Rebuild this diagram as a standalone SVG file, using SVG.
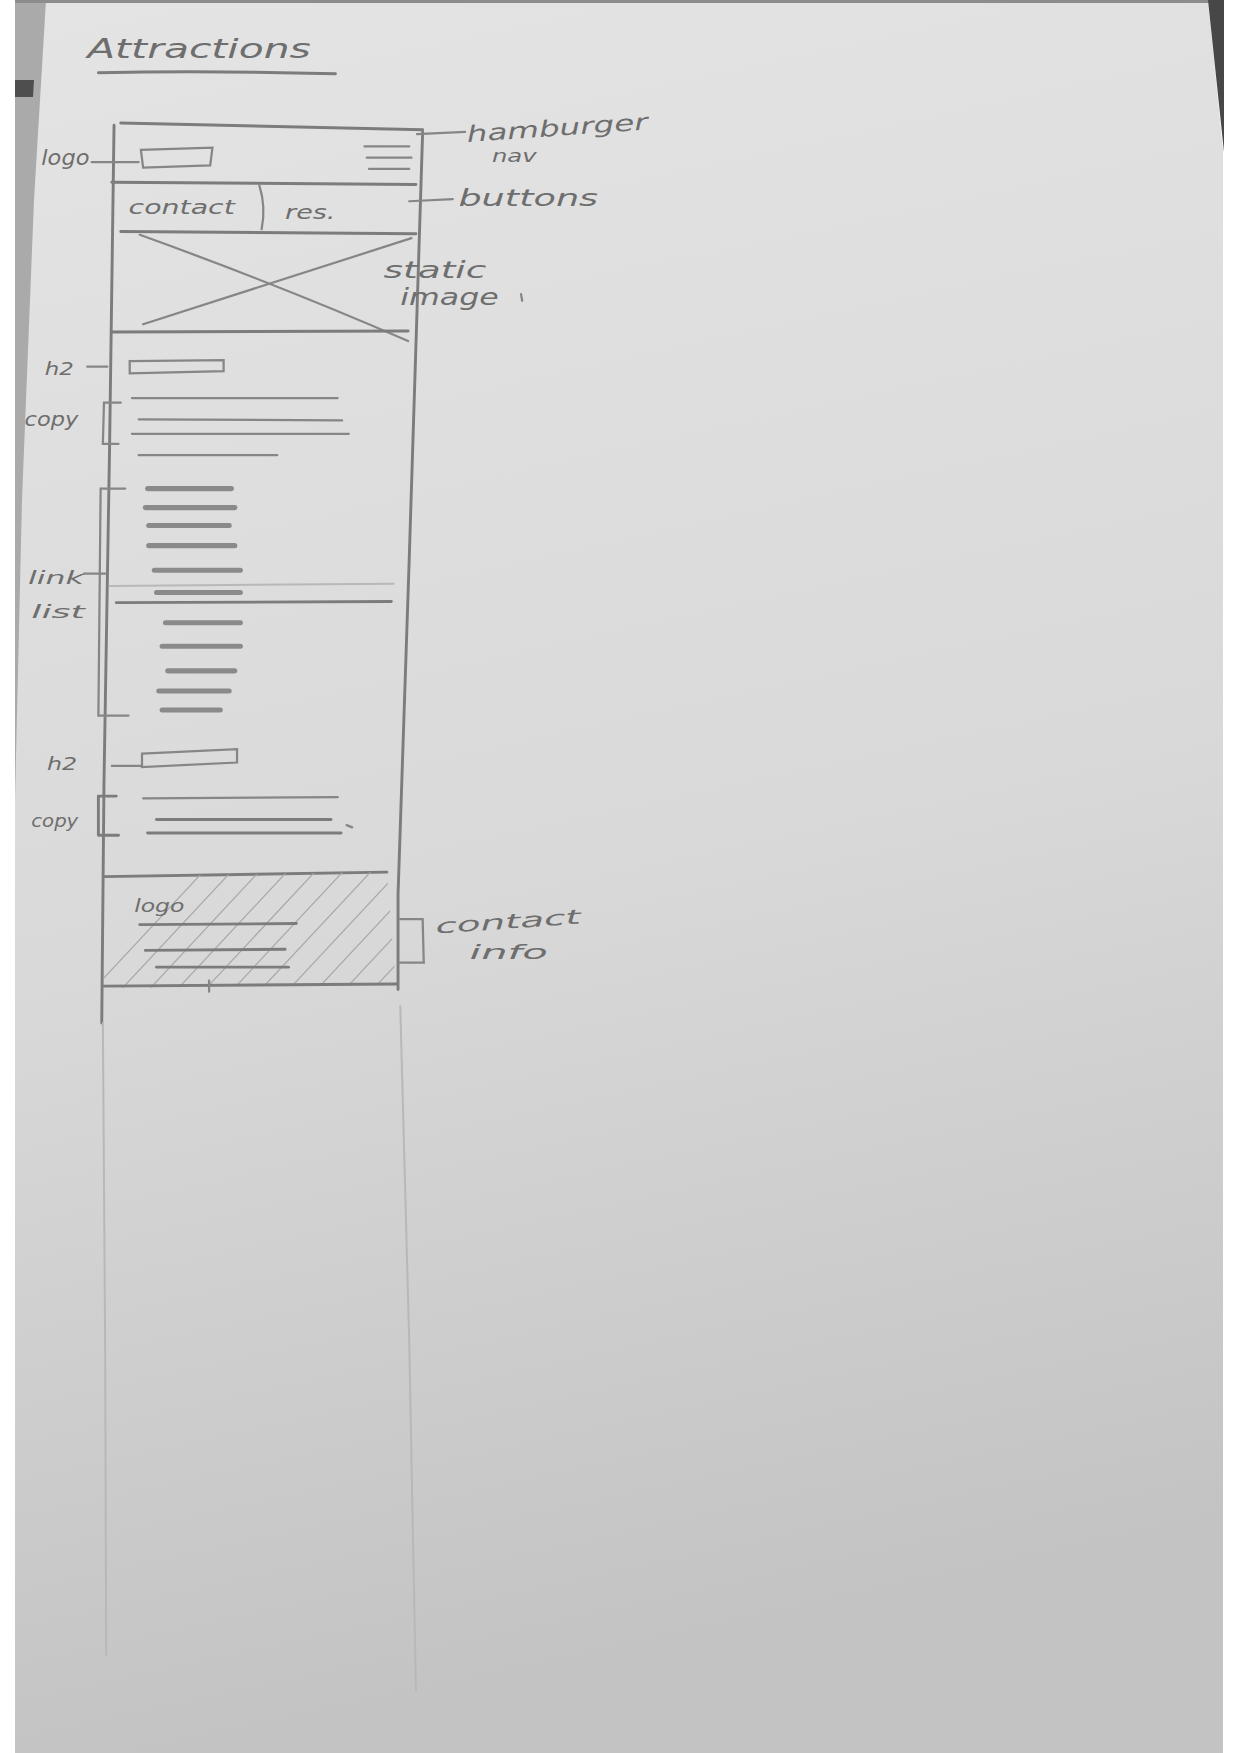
<svg xmlns="http://www.w3.org/2000/svg" width="1240" height="1753" viewBox="0 0 1240 1753">
<defs>
<linearGradient id="paper" x1="0" y1="0" x2="0.15" y2="1">
<stop offset="0" stop-color="#e4e4e4"/>
<stop offset="0.55" stop-color="#d9d9d9"/>
<stop offset="1" stop-color="#c3c3c3"/>
</linearGradient>
<clipPath id="footclip"><polygon points="93,784 346,780 354,880 93,884"/></clipPath>
<style>
.s{stroke:#7c7c7c;stroke-width:2.6;fill:none;stroke-linecap:round;stroke-linejoin:round}
.m{stroke:#868686;stroke-width:2;fill:none;stroke-linecap:round}
.f{stroke:#b8b8b8;stroke-width:1.8;fill:none;stroke-linecap:round}
.d{stroke:#8a8a8a;stroke-width:4.5;fill:none;stroke-linecap:round}
.h{stroke:#a8a8a8;stroke-width:1.1;fill:none}
.t{font-family:"DejaVu Sans","Liberation Sans",sans-serif;fill:#6e6e6e;font-style:italic}
</style>
</defs>
<rect x="0" y="0" width="1240" height="1753" fill="#ffffff"/>
<polygon points="15,0 1208,0 1223,150 1223,1753 15,1753" fill="url(#paper)"/>
<polygon points="15,0 46,0 34,200 22,500 15,800" fill="#aaaaaa"/>
<polygon points="15,80 34,80 33,97 15,97" fill="#4e4e4e"/>
<rect x="15" y="0" width="1195" height="3" fill="#8c8c8c"/>
<polygon points="1208,0 1224,0 1224,152" fill="#474747"/>

<g transform="scale(1.1181)">
<g id="title">
<text class="t" x="78" y="52" font-size="24" textLength="200" lengthAdjust="spacingAndGlyphs" fill="#555">Attractions</text>
<path class="s" d="M88,65 Q190,63 300,66" stroke="#6a6a6a"/>
</g>

<g id="frame">
<path class="s" d="M108,110 L378,116"/>
<path class="s" d="M102,112 L98,400 L93,700 L91,915"/>
<path class="f" d="M92,915 L94,1200 L95,1480"/>
<path class="s" d="M378,118 L366,500 L356,800 L356,885"/>
<path class="f" d="M358,900 L366,1200 L372,1512"/>
</g>

<g id="header">
<path class="m" d="M126,134 L190,132 L188,148 L128,150 Z"/>
<path class="m" d="M326,131 L366,131 M328,141 L368,141 M330,151 L366,151"/>
<path class="s" d="M100,163 L372,165"/>
</g>

<g id="buttons">
<text class="t" x="115" y="191" font-size="17" textLength="95" lengthAdjust="spacingAndGlyphs">contact</text>
<path class="m" d="M232,166 Q238,185 234,205"/>
<text class="t" x="255" y="196" font-size="17" textLength="45" lengthAdjust="spacingAndGlyphs">res.</text>
<path class="s" d="M108,207 L372,209"/>
</g>

<g id="static-image">
<path class="m" d="M125,210 Q250,255 365,305"/>
<path class="m" d="M128,290 L368,213"/>
<path class="s" d="M100,297 L365,296"/>
</g>

<g id="h2-1">
<path class="m" d="M116,323 L200,322 L200,332 L116,334 Z"/>
</g>

<g id="copy-1">
<path class="m" d="M118,356 L302,356"/>
<path class="m" d="M124,375 L306,376"/>
<path class="m" d="M118,388 L312,388"/>
<path class="m" d="M124,407 L248,407"/>
</g>

<g id="link-list">
<path class="d" d="M132,437 L207,437"/>
<path class="d" d="M130,454 L210,454"/>
<path class="d" d="M133,470 L205,470"/>
<path class="d" d="M133,488 L210,488"/>
<path class="d" d="M138,510 L215,510"/>
<path class="d" d="M140,530 L215,530"/>
<path class="f" d="M98,524 L352,522"/>
<path class="s" d="M104,539 L350,538"/>
<path class="d" d="M148,557 L215,557"/>
<path class="d" d="M145,578 L215,578"/>
<path class="d" d="M150,600 L210,600"/>
<path class="d" d="M142,618 L205,618"/>
<path class="d" d="M145,635 L197,635"/>
</g>

<g id="h2-2">
<path class="m" d="M127,674 L212,670 L212,682 L127,686 Z"/>
</g>

<g id="copy-2">
<path class="m" d="M128,714 L302,713"/>
<path class="s" d="M140,733 L296,733"/>
<path class="s" d="M132,745 L305,745"/>
</g>

<g id="footer">
<path class="s" d="M93,784 L346,780"/>
<g clip-path="url(#footclip)">
<path class="h" d="M60,910 L200,760 M85,910 L225,760 M110,910 L250,760 M135,910 L275,760 M160,910 L300,760 M185,910 L325,760 M210,910 L350,760 M235,910 L375,760 M260,910 L400,760 M285,910 L425,760 M310,910 L450,760 M335,910 L475,760"/>
</g>
<text class="t" x="120" y="816" font-size="15" textLength="45" lengthAdjust="spacingAndGlyphs">logo</text>
<path class="s" d="M125,827 L265,826"/>
<path class="s" d="M130,850 L255,849"/>
<path class="s" d="M140,865 L258,865"/>
<path class="s" d="M93,882 L355,880"/>
<path class="m" d="M187,877 L187,887"/>
</g>

<g id="annotations">
<text class="t" x="37" y="148" font-size="19" textLength="43" lengthAdjust="spacingAndGlyphs">logo</text>
<path class="m" d="M82,145 L124,145"/>
<path class="m" d="M373,120 L416,118"/>
<text class="t" x="418" y="127" font-size="20" textLength="162" lengthAdjust="spacingAndGlyphs" transform="rotate(-4 418 127)">hamburger</text>
<text class="t" x="440" y="145" font-size="16" textLength="40" lengthAdjust="spacingAndGlyphs">nav</text>
<path class="m" d="M366,180 L405,178"/>
<text class="t" x="410" y="184" font-size="20" textLength="125" lengthAdjust="spacingAndGlyphs">buttons</text>
<text class="t" x="343" y="249" font-size="20" textLength="92" lengthAdjust="spacingAndGlyphs" fill="#7a7a7a">static</text>
<text class="t" x="358" y="273" font-size="20" textLength="88" lengthAdjust="spacingAndGlyphs" fill="#7a7a7a">image</text>
<path class="m" d="M466,263 L467,269"/>
<text class="t" x="40" y="335" font-size="16" textLength="26" lengthAdjust="spacingAndGlyphs">h2</text>
<path class="m" d="M78,328 L96,328"/>
<text class="t" x="22" y="381" font-size="17" textLength="48" lengthAdjust="spacingAndGlyphs">copy</text>
<path class="m" d="M108,360 L93,360 L92,397 L106,397"/>
<path class="m" d="M112,437 L90,437 L88,640 L115,640"/>
<path class="m" d="M75,513 L95,513"/>
<text class="t" x="25" y="522" font-size="16" textLength="50" lengthAdjust="spacingAndGlyphs" fill="#888">link</text>
<text class="t" x="28" y="553" font-size="16" textLength="48" lengthAdjust="spacingAndGlyphs" fill="#888">list</text>
<text class="t" x="42" y="689" font-size="16" textLength="27" lengthAdjust="spacingAndGlyphs">h2</text>
<path class="m" d="M100,685 L127,685"/>
<text class="t" x="28" y="740" font-size="15" textLength="42" lengthAdjust="spacingAndGlyphs">copy</text>
<path class="s" d="M104,712 L88,712 L88,747 L106,747"/>
<path class="m" d="M310,738 L315,740"/>
<path class="m" d="M357,822 L378,822 L379,861 L357,861"/>
<text class="t" x="390" y="835" font-size="18" textLength="130" lengthAdjust="spacingAndGlyphs" transform="rotate(-4 390 835)">contact</text>
<text class="t" x="420" y="858" font-size="18" textLength="70" lengthAdjust="spacingAndGlyphs">info</text>
</g>
</g>
</svg>
